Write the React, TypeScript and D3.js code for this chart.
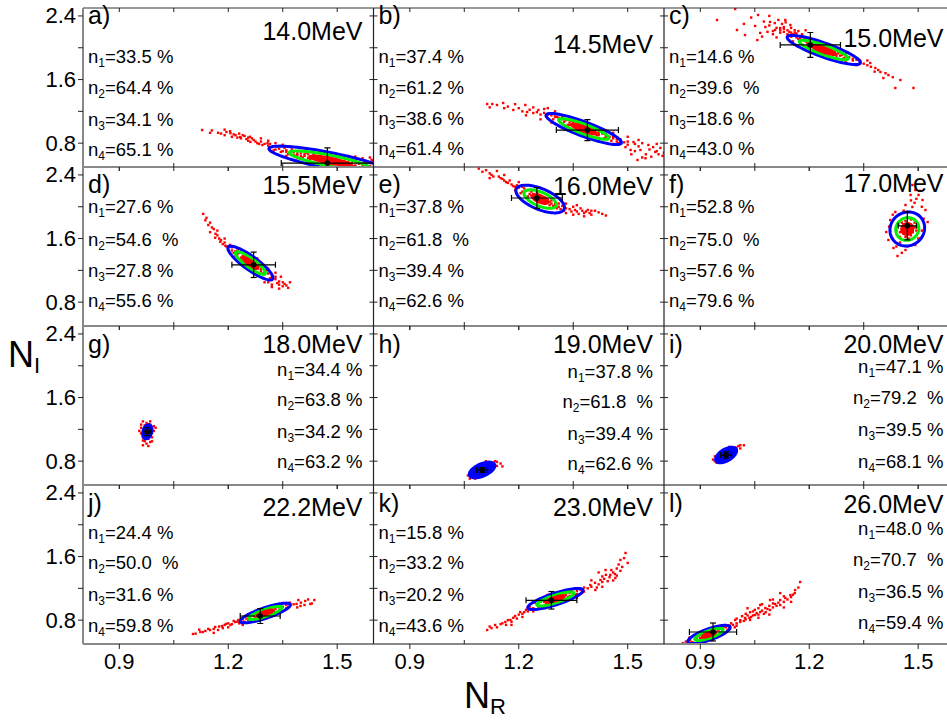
import React from 'react';
import * as d3 from 'd3';

const W = 947, H = 720;
const colLeft = [83, 373.5, 664];
const rowTop = [8, 167, 326, 485];
const panelW = 290.5, panelH = 159;

const xDomain = [0.8, 1.6];
const yDomain = [0.5, 2.5];
const xMajorTicks = [0.9, 1.2, 1.5];
const xMinorTicks = [1.05, 1.35];
const yMajorTicks = [0.8, 1.6, 2.4];
const yMinorTicks = [1.2, 2.0];

const letters = ['a)', 'b)', 'c)', 'd)', 'e)', 'f)', 'g)', 'h)', 'i)', 'j)', 'k)', 'l)'];
const energies = ['14.0MeV', '14.5MeV', '15.0MeV', '15.5MeV', '16.0MeV', '17.0MeV', '18.0MeV', '19.0MeV', '20.0MeV', '22.2MeV', '23.0MeV', '26.0MeV'];
const n1 = ['33.5 %', '37.4 %', '14.6 %', '27.6 %', '37.8 %', '52.8 %', '34.4 %', '37.8 %', '47.1 %', '24.4 %', '15.8 %', '48.0 %'];
const n2 = ['64.4 %', '61.2 %', '39.6  %', '54.6  %', '61.8  %', '75.0  %', '63.8 %', '61.8  %', '79.2  %', '50.0  %', '33.2 %', '70.7  %'];
const n3 = ['34.1 %', '38.6 %', '18.6 %', '27.8 %', '39.4 %', '57.6 %', '34.2 %', '39.4 %', '39.5 %', '31.6 %', '20.2 %', '36.5 %'];
const n4 = ['65.1 %', '61.4 %', '43.0 %', '55.6 %', '62.6 %', '79.6 %', '63.2 %', '62.6 %', '68.1 %', '59.8 %', '43.6 %', '59.4 %'];
const textRight = [false, false, false, false, false, false, true, true, true, false, false, true];
const letterY = [16, 26, 27, 27];
const energyY = [23, 36, 30, 18, 19, 16, 18, 18, 18, 22, 22, 19];
const nLineY = [
  [49, 80, 112, 142], [49, 80, 111, 141], [49, 80, 111, 141],
  [40, 73, 104, 134], [40, 73, 104, 134], [40, 73, 104, 134],
  [44, 74, 106, 136], [46, 76, 108, 138], [41, 72, 104, 136],
  [48, 78, 110, 141], [48, 78, 110, 141], [44, 75, 107, 138],
];

// ellipse (3 sigma outer) centre, major half-axis vector (data units), minor/major ratio
const ellipseCenter: [number, number][] = [
  [1.48, 0.58], [1.379, 0.978], [1.24, 1.972], [1.261, 1.292], [1.259, 2.097], [1.47, 1.72],
  [0.977, 1.17], [1.099, 0.689], [0.971, 0.877], [1.302, 0.89], [1.301, 1.066], [0.924, 0.62],
];
const ellipseAxis: [number, number][] = [
  [0.168, -0.153], [0.1035, -0.176], [0.1007, -0.1635], [0.061, -0.201], [0.066, -0.126], [0.0386, 0.138],
  [0.0055, 0.088], [0.0345, 0.069], [0.0276, 0.075], [0.069, 0.107], [0.076, 0.113], [0.058, 0.094],
];
const ellipseRatio = [0.13, 0.18, 0.18, 0.25, 0.4, 0.93, 0.6, 0.45, 0.5, 0.2, 0.2, 0.25];
const ellipseFilled = [false, false, false, false, false, false, true, true, true, false, false, false];

// error cross: centre and half-widths
const errCenter: [number, number][] = [
  [1.473, 0.55], [1.389, 0.965], [1.203, 2.035], [1.27, 1.27], [1.25, 2.11], [1.47, 1.76],
  [0.977, 1.17], [1.099, 0.689], [0.971, 0.877], [1.288, 0.852], [1.29, 1.05], [0.935, 0.651],
];
const errHalf: [number, number][] = [
  [0.127, 0.19], [0.0855, 0.132], [0.083, 0.157], [0.06, 0.16], [0.07, 0.13], [0.025, 0.176],
  [0.01, 0.05], [0.015, 0.03], [0.015, 0.04], [0.055, 0.094], [0.07, 0.11], [0.065, 0.113],
];

const ptsA: [number, number][] = [
  [1.128, 0.965], [1.172, 0.93], [1.195, 0.94], [1.206, 0.925], [1.22, 0.9], [1.233, 0.877], [1.245, 0.89], [1.25, 0.85],
  [1.261, 0.815], [1.27, 0.84], [1.28, 0.8], [1.294, 0.777], [1.3, 0.79], [1.308, 0.8],
  [1.32, 0.75], [1.325, 0.71], [1.34, 0.73], [1.345, 0.69], [1.335, 0.76], [1.36, 0.71], [1.365, 0.66], [1.355, 0.74],
  [1.38, 0.69], [1.385, 0.64], [1.375, 0.72], [1.39, 0.67], [1.4, 0.67], [1.405, 0.62], [1.395, 0.7], [1.41, 0.64],
  [1.42, 0.66], [1.425, 0.6], [1.415, 0.68], [1.43, 0.63], [1.44, 0.64], [1.445, 0.59], [1.435, 0.66], [1.45, 0.61],
  [1.46, 0.62], [1.465, 0.57], [1.455, 0.65], [1.47, 0.6], [1.48, 0.6], [1.485, 0.55], [1.475, 0.63], [1.49, 0.58],
  [1.5, 0.59], [1.505, 0.53], [1.51, 0.57], [1.52, 0.57], [1.525, 0.52], [1.53, 0.56], [1.54, 0.55], [1.545, 0.51],
  [1.55, 0.58], [1.56, 0.54], [1.57, 0.52], [1.575, 0.56], [1.58, 0.53], [1.59, 0.55], [1.595, 0.59],
  [1.4, 0.74], [1.45, 0.7], [1.5, 0.66], [1.53, 0.64], [1.55, 0.63], [1.57, 0.61], [1.35, 0.78], [1.37, 0.76],
  [1.19, 0.9], [1.21, 0.88], [1.215, 0.91], [1.225, 0.87], [1.235, 0.86], [1.24, 0.9], [1.255, 0.83], [1.265, 0.86],
  [1.275, 0.82], [1.285, 0.79], [1.29, 0.82], [1.31, 0.77], [1.315, 0.79], [1.255, 0.87], [1.205, 0.95], [1.155, 0.96],
  [1.18, 0.92], [1.33, 0.72], [1.35, 0.7], [1.37, 0.68], [1.39, 0.65], [1.41, 0.66], [1.43, 0.61], [1.45, 0.63],
  [1.47, 0.58], [1.49, 0.56], [1.51, 0.55], [1.53, 0.53], [1.55, 0.52], [1.57, 0.54], [1.59, 0.51], [1.36, 0.69],
  [1.38, 0.655], [1.4, 0.635], [1.42, 0.615], [1.44, 0.6], [1.46, 0.585], [1.48, 0.57], [1.5, 0.545], [1.52, 0.535],
  [1.54, 0.53], [1.56, 0.55], [1.58, 0.56], [1.6, 0.57], [1.43, 0.69], [1.47, 0.67], [1.52, 0.62], [1.56, 0.6], [1.59, 0.62],
  [1.15, 0.93], [1.19, 0.97], [1.23, 0.92], [1.26, 0.88], [1.29, 0.86], [1.31, 0.83], [1.33, 0.8], [1.36, 0.64],
  [1.39, 0.61], [1.42, 0.57],
];
const ptsB: [number, number][] = [
  [1.113, 1.292], [1.127, 1.292], [1.157, 1.305], [1.185, 1.217], [1.218, 1.28], [1.223, 1.192], [1.24, 1.179], [1.254, 1.217],
  [1.516, 0.814], [1.557, 0.777], [1.527, 0.588], [1.535, 0.714], [1.576, 0.689], [1.59, 0.74], [1.596, 0.64], [1.549, 0.61],
  [1.508, 0.714], [1.494, 0.75],
  [1.27, 1.18], [1.275, 1.14], [1.29, 1.15], [1.295, 1.1], [1.285, 1.17], [1.31, 1.12], [1.315, 1.06], [1.305, 1.13],
  [1.33, 1.09], [1.335, 1.03], [1.325, 1.07], [1.35, 1.05], [1.355, 0.99], [1.345, 1.08], [1.36, 1.02],
  [1.37, 1.02], [1.375, 0.96], [1.365, 1.04], [1.38, 0.99], [1.39, 0.99], [1.395, 0.93], [1.385, 1.0], [1.4, 0.95],
  [1.41, 0.95], [1.415, 0.9], [1.405, 0.97], [1.42, 0.92], [1.43, 0.92], [1.435, 0.86], [1.44, 0.89],
  [1.45, 0.88], [1.455, 0.83], [1.46, 0.86], [1.47, 0.85], [1.475, 0.8], [1.48, 0.83], [1.49, 0.81], [1.5, 0.78],
  [1.26, 1.1], [1.3, 1.2], [1.33, 1.0], [1.44, 0.95], [1.46, 0.79], [1.28, 1.24],
  [1.14, 1.28], [1.17, 1.26], [1.2, 1.24], [1.21, 1.2], [1.23, 1.22], [1.25, 1.19], [1.26, 1.16], [1.24, 1.25],
  [1.28, 1.16], [1.3, 1.13], [1.32, 1.1], [1.34, 1.06], [1.36, 1.03], [1.38, 1.0], [1.4, 0.97], [1.42, 0.94],
  [1.44, 0.91], [1.46, 0.88], [1.48, 0.85], [1.5, 0.82], [1.52, 0.79], [1.3, 1.16], [1.32, 1.13], [1.34, 1.03],
  [1.36, 1.0], [1.38, 0.95], [1.4, 0.93], [1.42, 0.9], [1.44, 0.87], [1.47, 0.82],
  [1.53, 0.76], [1.54, 0.8], [1.56, 0.72], [1.57, 0.75], [1.58, 0.7], [1.6, 0.68], [1.55, 0.66], [1.52, 0.7], [1.565, 0.63], [1.585, 0.66],
  [1.12, 1.25], [1.16, 1.24], [1.19, 1.29], [1.22, 1.15], [1.27, 1.23], [1.29, 1.06], [1.46, 0.93], [1.5, 0.88],
  [1.53, 0.84], [1.58, 0.79], [1.54, 0.62], [1.51, 0.66],
];
const ptsC: [number, number][] = [
  [0.946, 2.349], [0.996, 2.487], [1.001, 2.223], [1.023, 2.16], [1.051, 2.274], [1.057, 2.097], [1.059, 2.412], [1.079, 2.261],
  [1.092, 2.324], [1.106, 2.223], [1.12, 2.248], [1.134, 2.349], [1.148, 2.286], [1.065, 2.186],
  [1.368, 1.808], [1.396, 1.695], [1.404, 1.619], [1.437, 1.494], [1.487, 1.494], [1.382, 1.745], [1.418, 1.657], [1.451, 1.594],
  [1.15, 2.14], [1.155, 2.08], [1.16, 2.16], [1.17, 2.11], [1.175, 2.05], [1.165, 2.13], [1.19, 2.08], [1.195, 2.02],
  [1.185, 2.1], [1.2, 2.05], [1.21, 2.05], [1.215, 1.99], [1.205, 2.07], [1.22, 2.02], [1.23, 2.01], [1.235, 1.96],
  [1.225, 2.04], [1.24, 1.99], [1.25, 1.98], [1.255, 1.93], [1.26, 1.96], [1.27, 1.95], [1.275, 1.9], [1.28, 1.93],
  [1.29, 1.91], [1.295, 1.87], [1.3, 1.89], [1.31, 1.88], [1.32, 1.84], [1.33, 1.85], [1.34, 1.81],
  [1.125, 2.3], [1.13, 2.26], [1.14, 2.22], [1.15, 2.25], [1.16, 2.19], [1.17, 2.21], [1.135, 2.32],
  [1.13, 2.2], [1.14, 2.17], [1.12, 2.19], [1.16, 2.22], [1.18, 2.15], [1.1, 2.17],
  [1.13, 2.24], [1.145, 2.2], [1.155, 2.17], [1.165, 2.18], [1.175, 2.12], [1.185, 2.13], [1.195, 2.06], [1.205, 2.04],
  [1.215, 2.02], [1.225, 2.0], [1.235, 1.98], [1.245, 1.96], [1.255, 1.95], [1.265, 1.93], [1.285, 1.9], [1.305, 1.87],
  [1.32, 1.86], [1.34, 1.84], [1.35, 1.8], [1.36, 1.78], [1.12, 2.22], [1.11, 2.25], [1.1, 2.21], [1.09, 2.28],
  [1.085, 2.2], [1.105, 2.31], [1.115, 2.35], [1.075, 2.33], [1.15, 2.19], [1.18, 2.17], [1.2, 2.1], [1.22, 2.06],
  [1.26, 1.99], [1.28, 1.96], [1.3, 1.92], [1.37, 1.76], [1.39, 1.72], [1.41, 1.68], [1.43, 1.63],
  [1.02, 2.3], [1.04, 2.38], [1.07, 2.14], [1.09, 2.4], [1.11, 2.13], [1.19, 2.22], [1.25, 2.04], [1.3, 1.83],
  [1.33, 1.78], [1.38, 1.7], [1.36, 1.84],
];
const ptsD: [number, number][] = [
  [1.131, 1.91], [1.137, 1.83], [1.145, 1.77], [1.15, 1.68], [1.16, 1.72], [1.164, 1.61], [1.17, 1.64], [1.178, 1.56],
  [1.185, 1.53], [1.192, 1.51], [1.2, 1.47],
  [1.21, 1.49], [1.215, 1.42], [1.205, 1.52], [1.23, 1.42], [1.235, 1.36], [1.225, 1.45], [1.24, 1.38],
  [1.25, 1.36], [1.255, 1.29], [1.245, 1.38], [1.26, 1.31], [1.27, 1.3], [1.275, 1.22], [1.265, 1.33], [1.28, 1.25],
  [1.29, 1.22], [1.295, 1.16], [1.285, 1.25], [1.3, 1.18], [1.31, 1.16], [1.315, 1.1], [1.32, 1.12],
  [1.33, 1.09], [1.335, 1.04], [1.34, 1.06],
  [1.35, 1.0], [1.345, 1.12], [1.32, 0.99], [1.3, 1.05], [1.355, 1.03], [1.28, 1.35], [1.31, 1.22],
  [1.14, 1.86], [1.155, 1.74], [1.165, 1.66], [1.175, 1.6], [1.18, 1.58], [1.19, 1.55], [1.195, 1.5], [1.21, 1.45],
  [1.22, 1.44], [1.225, 1.4], [1.24, 1.34], [1.25, 1.32], [1.255, 1.35], [1.26, 1.27], [1.27, 1.27], [1.28, 1.22],
  [1.29, 1.19], [1.3, 1.15], [1.305, 1.2], [1.32, 1.08], [1.33, 1.12], [1.34, 1.02], [1.35, 1.05], [1.36, 1.01],
  [1.365, 0.98], [1.34, 0.97], [1.31, 1.05], [1.29, 1.29], [1.27, 1.36], [1.23, 1.47], [1.2, 1.5],
  [1.15, 1.8], [1.17, 1.7], [1.19, 1.6], [1.33, 1.17], [1.37, 1.05], [1.32, 1.02], [1.25, 1.25], [1.22, 1.38],
];
const ptsE: [number, number][] = [
  [1.09, 2.48], [1.1, 2.44], [1.12, 2.42], [1.13, 2.38], [1.15, 2.36], [1.16, 2.33], [1.17, 2.3], [1.18, 2.28],
  [1.19, 2.25], [1.14, 2.45],
  [1.2, 2.24], [1.205, 2.17], [1.195, 2.27], [1.22, 2.2], [1.225, 2.13], [1.215, 2.23], [1.23, 2.16],
  [1.24, 2.16], [1.245, 2.09], [1.235, 2.19], [1.25, 2.12], [1.26, 2.13], [1.265, 2.05], [1.255, 2.15], [1.27, 2.08],
  [1.28, 2.09], [1.285, 2.02], [1.275, 2.11], [1.29, 2.04], [1.3, 2.05], [1.305, 1.98], [1.31, 2.0],
  [1.32, 2.01], [1.325, 1.95],
  [1.34, 1.97], [1.35, 2.0], [1.36, 1.94], [1.37, 1.98], [1.38, 1.92], [1.39, 1.96], [1.4, 1.9], [1.42, 1.93],
  [1.35, 1.9], [1.33, 1.92],
  [1.11, 2.46], [1.125, 2.4], [1.145, 2.38], [1.155, 2.35], [1.165, 2.31], [1.175, 2.33], [1.185, 2.26], [1.19, 2.21],
  [1.21, 2.19], [1.21, 2.25], [1.23, 2.21], [1.235, 2.14], [1.245, 2.12], [1.25, 2.17], [1.255, 2.08], [1.26, 2.1],
  [1.265, 2.12], [1.27, 2.05], [1.275, 2.07], [1.285, 2.06], [1.29, 2.08], [1.295, 2.01], [1.3, 2.02], [1.31, 2.04],
  [1.315, 1.97], [1.33, 1.98], [1.345, 1.94], [1.355, 1.96], [1.365, 1.91], [1.375, 1.95], [1.385, 1.94], [1.41, 1.95],
  [1.395, 1.92], [1.43, 1.91],
  [1.12, 2.36], [1.16, 2.4], [1.2, 2.31], [1.33, 2.04], [1.36, 2.02], [1.4, 1.95], [1.38, 1.88], [1.44, 1.89],
];
const ptsF: [number, number][] = [
  [1.484, 2.274], [1.492, 2.211], [1.501, 2.148], [1.512, 2.085], [1.479, 2.148], [1.52, 1.959], [1.526, 1.808],
  [1.506, 1.607], [1.492, 1.519], [1.465, 1.456], [1.443, 1.381], [1.432, 1.481], [1.418, 1.582], [1.412, 1.682],
  [1.423, 1.833], [1.437, 1.934], [1.465, 2.022], [1.484, 1.997], [1.473, 1.934],
  [1.455, 1.7], [1.46, 1.78], [1.47, 1.65], [1.48, 1.75], [1.485, 1.68], [1.465, 1.82], [1.475, 1.6], [1.49, 1.8],
  [1.45, 1.62], [1.46, 1.74], [1.48, 1.84], [1.495, 1.7], [1.445, 1.78], [1.47, 1.7],
  [1.45, 1.68], [1.46, 1.66], [1.47, 1.76], [1.475, 1.72], [1.48, 1.64], [1.49, 1.74], [1.455, 1.8], [1.465, 1.62],
  [1.44, 1.7], [1.5, 1.75], [1.5, 1.9], [1.51, 2.0], [1.49, 2.05], [1.495, 2.1], [1.505, 2.2], [1.48, 2.08],
  [1.515, 1.85], [1.45, 1.55], [1.44, 1.5], [1.43, 1.6], [1.42, 1.75], [1.43, 1.9], [1.46, 1.95], [1.5, 1.6],
  [1.47, 1.5], [1.455, 1.42], [1.51, 1.7],
];
const ptsG: [number, number][] = [
  [0.965, 1.3], [0.97, 1.25], [0.975, 1.28], [0.98, 1.22], [0.985, 1.26], [0.99, 1.2], [0.96, 1.15], [0.965, 1.1],
  [0.97, 1.05], [0.975, 1.02], [0.98, 1.08], [0.985, 1.12], [0.99, 1.15], [0.995, 1.18], [0.96, 1.22], [0.97, 1.18],
  [0.98, 1.15], [0.975, 1.12], [0.99, 1.05], [0.965, 1.0], [0.98, 0.99], [0.985, 1.3], [0.955, 1.18], [1.0, 1.22],
  [0.97, 1.14], [0.975, 1.2], [0.98, 1.26], [0.985, 1.04], [0.99, 1.1], [0.96, 1.26], [0.965, 1.06], [0.995, 1.24],
];
const ptsH: [number, number][] = [
  [1.07, 0.6], [1.075, 0.63], [1.08, 0.58], [1.085, 0.65], [1.09, 0.62], [1.095, 0.7], [1.1, 0.66], [1.105, 0.72],
  [1.11, 0.68], [1.115, 0.76], [1.12, 0.73], [1.125, 0.78], [1.13, 0.75], [1.135, 0.8], [1.08, 0.68], [1.09, 0.73],
  [1.1, 0.61], [1.12, 0.67], [1.11, 0.8], [1.07, 0.66], [1.14, 0.74], [1.15, 0.77], [1.06, 0.62], [1.1, 0.76],
  [1.13, 0.7], [1.155, 0.734],
  [1.08, 0.63], [1.09, 0.67], [1.1, 0.7], [1.11, 0.72], [1.12, 0.76], [1.13, 0.78], [1.105, 0.64], [1.115, 0.7],
  [1.125, 0.72], [1.065, 0.58], [1.14, 0.79], [1.095, 0.6],
];
const ptsI: [number, number][] = [
  [0.94, 0.8], [0.945, 0.83], [0.95, 0.78], [0.955, 0.86], [0.96, 0.82], [0.965, 0.9], [0.97, 0.86], [0.975, 0.92],
  [0.98, 0.88], [0.985, 0.95], [0.99, 0.91], [0.995, 0.97], [1.0, 0.94], [1.005, 0.99], [0.95, 0.88], [0.96, 0.93],
  [0.97, 0.8], [0.99, 0.86], [0.98, 0.98], [0.94, 0.86], [1.01, 0.96], [1.02, 1.0], [0.935, 0.82], [0.965, 0.95],
  [0.95, 0.82], [0.96, 0.86], [0.97, 0.9], [0.98, 0.92], [0.99, 0.95], [1.0, 0.97], [0.975, 0.84], [0.985, 0.88],
  [0.995, 0.92], [0.945, 0.78], [1.01, 1.0], [0.955, 0.8],
];
const ptsJ: [number, number][] = [
  [1.103, 0.626], [1.123, 0.651], [1.137, 0.664], [1.15, 0.676], [1.164, 0.714], [1.172, 0.676], [1.183, 0.726], [1.194, 0.752],
  [1.206, 0.739], [1.219, 0.777], [1.228, 0.802], [1.239, 0.764],
  [1.388, 1.003], [1.399, 0.978], [1.412, 1.041], [1.426, 1.003], [1.437, 1.053], [1.393, 1.053],
  [1.24, 0.81], [1.245, 0.78], [1.26, 0.84], [1.265, 0.81], [1.255, 0.85], [1.28, 0.87], [1.285, 0.84], [1.275, 0.88],
  [1.3, 0.9], [1.305, 0.87], [1.295, 0.91], [1.32, 0.93], [1.325, 0.9], [1.315, 0.94], [1.34, 0.96], [1.345, 0.93],
  [1.335, 0.97], [1.36, 0.99], [1.365, 0.96],
  [1.11, 0.63], [1.13, 0.65], [1.145, 0.69], [1.16, 0.69], [1.175, 0.72], [1.185, 0.7], [1.19, 0.74], [1.2, 0.76],
  [1.21, 0.75], [1.215, 0.79], [1.225, 0.78], [1.23, 0.76], [1.235, 0.8], [1.25, 0.82], [1.27, 0.85], [1.29, 0.88],
  [1.31, 0.91], [1.33, 0.94], [1.35, 0.97], [1.37, 0.98], [1.38, 1.0], [1.255, 0.8], [1.275, 0.83], [1.295, 0.86],
  [1.315, 0.89], [1.34, 0.92], [1.36, 0.95], [1.4, 1.02], [1.42, 1.06], [1.41, 0.99],
  [1.16, 0.64], [1.2, 0.71], [1.24, 0.74], [1.33, 0.98], [1.37, 1.02], [1.39, 0.96], [1.43, 1.01], [1.12, 0.68],
];
const ptsK: [number, number][] = [
  [1.113, 0.676], [1.125, 0.7], [1.135, 0.739], [1.15, 0.75], [1.163, 0.777], [1.17, 0.8], [1.177, 0.802], [1.185, 0.83],
  [1.19, 0.852], [1.2, 0.87], [1.204, 0.902], [1.215, 0.9], [1.22, 0.93],
  [1.23, 0.97], [1.235, 0.94], [1.25, 1.0], [1.255, 0.97], [1.245, 1.02], [1.27, 1.03], [1.275, 1.0], [1.265, 1.05],
  [1.29, 1.06], [1.295, 1.03], [1.285, 1.08], [1.31, 1.09], [1.315, 1.06], [1.305, 1.11], [1.33, 1.12], [1.335, 1.09],
  [1.325, 1.14], [1.35, 1.15], [1.355, 1.12], [1.345, 1.17], [1.37, 1.18], [1.375, 1.15],
  [1.397, 1.242], [1.411, 1.179], [1.425, 1.305], [1.439, 1.431], [1.452, 1.368], [1.466, 1.33], [1.48, 1.557], [1.494, 1.645],
  [1.39, 1.2], [1.42, 1.25], [1.43, 1.35], [1.445, 1.29], [1.46, 1.4], [1.4, 1.3], [1.47, 1.45],
  [1.12, 0.72], [1.14, 0.71], [1.155, 0.76], [1.165, 0.74], [1.18, 0.78], [1.195, 0.82], [1.21, 0.88], [1.225, 0.91],
  [1.24, 0.95], [1.26, 0.98], [1.28, 1.01], [1.3, 1.04], [1.32, 1.07], [1.34, 1.1], [1.36, 1.13], [1.38, 1.16],
  [1.26, 1.03], [1.28, 1.06], [1.3, 1.08], [1.32, 1.11], [1.34, 1.14], [1.36, 1.17], [1.38, 1.21], [1.4, 1.22],
  [1.41, 1.27], [1.43, 1.28], [1.435, 1.32], [1.45, 1.34], [1.455, 1.43], [1.465, 1.38], [1.475, 1.5], [1.485, 1.47],
  [1.49, 1.58], [1.415, 1.21], [1.44, 1.37], [1.47, 1.36], [1.5, 1.52],
  [1.18, 0.74], [1.21, 0.84], [1.24, 0.91], [1.33, 1.04], [1.36, 1.08], [1.28, 1.12], [1.31, 1.15], [1.43, 1.22],
  [1.46, 1.3], [1.42, 1.4], [1.48, 1.42],
];
const ptsL: [number, number][] = [
  [0.852, 0.51], [0.86, 0.53], [0.872, 0.55], [0.88, 0.52], [0.885, 0.57], [0.899, 0.576], [0.89, 0.6],
  [0.91, 0.61], [0.905, 0.58], [0.93, 0.64], [0.935, 0.61], [0.925, 0.66], [0.95, 0.67], [0.955, 0.64], [0.945, 0.69],
  [0.97, 0.71], [0.975, 0.68], [0.965, 0.72], [0.99, 0.74], [0.995, 0.71], [0.985, 0.76],
  [1.01, 0.777], [1.023, 0.827], [1.037, 0.802], [1.051, 0.865], [1.065, 0.902], [1.079, 0.953], [1.092, 0.928], [1.106, 1.003],
  [1.12, 1.053], [1.134, 1.079], [1.148, 1.116], [1.161, 1.179], [1.175, 1.28], [1.092, 1.053], [1.065, 0.99], [1.037, 0.9],
  [1.015, 0.85], [0.996, 0.802], [1.0, 0.76], [1.02, 0.79], [1.04, 0.84], [1.06, 0.87], [1.08, 0.9], [1.1, 0.96],
  [1.12, 0.99], [1.05, 0.93], [1.03, 0.86],
  [0.87, 0.58], [0.875, 0.52], [0.89, 0.56], [0.895, 0.6], [0.9, 0.62], [0.915, 0.6], [0.92, 0.64], [0.94, 0.65],
  [0.94, 0.68], [0.96, 0.69], [0.96, 0.66], [0.98, 0.71], [0.98, 0.73], [1.0, 0.73], [1.01, 0.8], [1.025, 0.81],
  [1.035, 0.83], [1.045, 0.86], [1.055, 0.89], [1.07, 0.92], [1.075, 0.88], [1.085, 0.94], [1.09, 0.98], [1.11, 0.98],
  [1.115, 1.02], [1.13, 1.03], [1.14, 1.06], [1.155, 1.12], [1.13, 1.1], [1.17, 1.21], [1.045, 0.91], [1.06, 0.95],
  [1.025, 0.88], [1.1, 1.01], [1.15, 1.09],
  [1.03, 0.95], [1.06, 0.83], [1.09, 0.87], [1.1, 1.06], [1.13, 0.96], [1.15, 1.03], [1.16, 1.14], [1.12, 1.14],
  [1.07, 1.0], [1.0, 0.82],
];
const clouds = [ptsA, ptsB, ptsC, ptsD, ptsE, ptsF, ptsG, ptsH, ptsI, ptsJ, ptsK, ptsL];

const FONT = 'Liberation Sans, Arial, sans-serif';
const sx = d3.scaleLinear().domain(xDomain).range([0, panelW]);
const sy = d3.scaleLinear().domain(yDomain).range([panelH, 0]);

function ellipsePath(i: number, k: number) {
  const [ex, ey] = ellipseCenter[i];
  const [ax, ay] = ellipseAxis[i];
  const cx = sx(ex), cy = sy(ey);
  const ux = sx(ex + ax) - cx, uy = sy(ey + ay) - cy;
  const r = ellipseRatio[i];
  const vx = -uy * r, vy = ux * r;
  const pts = d3.range(0, 97).map((j) => {
    const t = (j / 96) * 2 * Math.PI;
    return [cx + k * (Math.cos(t) * ux + Math.sin(t) * vx), cy + k * (Math.cos(t) * uy + Math.sin(t) * vy)] as [number, number];
  });
  return (d3.line()(pts) || '') + 'Z';
}

function NText({ x, y, idx, val, anchor }: { x: number; y: number; idx: number; val: string; anchor: 'start' | 'end' }) {
  return (
    <text x={x} y={y} fontSize={18.5} fontFamily={FONT} textAnchor={anchor} xmlSpace="preserve" style={{ whiteSpace: 'pre' }}>
      n<tspan fontSize={12} dy={4}>{idx}</tspan><tspan dy={-4}>={val}</tspan>
    </text>
  );
}

function Panel({ i }: { i: number }) {
  const r = Math.floor(i / 3), c = i % 3;
  const L = colLeft[c], T = rowTop[r];
  const [ecx, ecy] = errCenter[i];
  const [ehx, ehy] = errHalf[i];
  const cap = 3;
  const nVals = [n1[i], n2[i], n3[i], n4[i]];
  const right = textRight[i];
  const yAll = [...yMajorTicks, ...yMinorTicks];
  const xAll = [...xMajorTicks, ...xMinorTicks];
  return (
    <g transform={`translate(${L},${T})`}>
      <defs>
        <clipPath id={`clip${i}`}>
          <rect x={0} y={0} width={panelW} height={panelH} />
        </clipPath>
      </defs>
      <g clipPath={`url(#clip${i})`}>
        {clouds[i].map((p, j) => (
          <rect key={j} x={sx(p[0]) - 1.2} y={sy(p[1]) - 1.2} width={2.4} height={2.4} fill="#ff0000" />
        ))}
        <path d={ellipsePath(i, 1)} fill={ellipseFilled[i] ? '#0000ff' : 'none'} stroke="#0000ff" strokeWidth={3} />
        {!ellipseFilled[i] && <path d={ellipsePath(i, 2 / 3)} fill="none" stroke="#00ee00" strokeWidth={3} />}
        {!ellipseFilled[i] && <path d={ellipsePath(i, 1 / 3)} fill="#ff0000" stroke="#ff0000" strokeWidth={2.5} />}
        <g stroke="#000" strokeWidth={1.2}>
          <line x1={sx(ecx - ehx)} x2={sx(ecx + ehx)} y1={sy(ecy)} y2={sy(ecy)} />
          <line x1={sx(ecx)} x2={sx(ecx)} y1={sy(ecy - ehy)} y2={sy(ecy + ehy)} />
          <line x1={sx(ecx - ehx)} x2={sx(ecx - ehx)} y1={sy(ecy) - cap} y2={sy(ecy) + cap} />
          <line x1={sx(ecx + ehx)} x2={sx(ecx + ehx)} y1={sy(ecy) - cap} y2={sy(ecy) + cap} />
          <line x1={sx(ecx) - cap} x2={sx(ecx) + cap} y1={sy(ecy - ehy)} y2={sy(ecy - ehy)} />
          <line x1={sx(ecx) - cap} x2={sx(ecx) + cap} y1={sy(ecy + ehy)} y2={sy(ecy + ehy)} />
        </g>
        <circle cx={sx(ecx)} cy={sy(ecy)} r={2.8} fill="#000" />
      </g>
      {/* frame */}
      {r === 0 && <line x1={0} x2={panelW} y1={0} y2={0} stroke="#333" strokeWidth={1} />}
      <line x1={0} x2={panelW} y1={panelH} y2={panelH} stroke="#888" strokeWidth={2} />
      {c === 0 ? (
        <line x1={0} x2={0} y1={0} y2={panelH} stroke="#888" strokeWidth={2} />
      ) : (
        <line x1={0} x2={0} y1={0} y2={panelH} stroke="#222" strokeWidth={1.2} />
      )}
      {c === 2 && <line x1={panelW} x2={panelW} y1={0} y2={panelH} stroke="#222" strokeWidth={1} />}
      {/* ticks */}
      {yAll.map((v) => (
        <line key={`yl${v}`} x1={c === 0 ? -5 : 0} x2={c === 0 ? 0 : 4} y1={sy(v)} y2={sy(v)} stroke="#222" strokeWidth={1} />
      ))}
      {yAll.map((v) => (
        <line key={`yr${v}`} x1={panelW - 4} x2={panelW} y1={sy(v)} y2={sy(v)} stroke="#222" strokeWidth={1} />
      ))}
      {xMajorTicks.map((v) => (
        <line key={`xb${v}`} x1={sx(v)} x2={sx(v)} y1={panelH} y2={panelH + (r === 3 ? 5 : 4)} stroke="#222" strokeWidth={1} />
      ))}
      {xMinorTicks.map((v) => (
        <line key={`xm${v}`} x1={sx(v)} x2={sx(v)} y1={panelH} y2={panelH - 4} stroke="#222" strokeWidth={1} />
      ))}
      {xAll.map((v) => (
        <line key={`xt${v}`} x1={sx(v)} x2={sx(v)} y1={0} y2={4} stroke="#222" strokeWidth={1} />
      ))}
      {c === 0 &&
        yMajorTicks.map((v) => (
          <text key={`yt${v}`} x={-7} y={sy(v) + 7.5} fontSize={22} fontFamily={FONT} textAnchor="end">
            {v.toFixed(1)}
          </text>
        ))}
      {r === 3 &&
        xMajorTicks.map((v) => (
          <text key={`xtl${v}`} x={sx(v)} y={panelH + 25} fontSize={22} fontFamily={FONT} textAnchor="middle">
            {v.toFixed(1)}
          </text>
        ))}
      {/* labels */}
      <text x={5} y={letterY[r]} fontSize={25} fontFamily={FONT}>{letters[i]}</text>
      <text x={panelW - 11} y={energyY[i] + 8.5} fontSize={25} fontFamily={FONT} textAnchor="end">{energies[i]}</text>
      {nVals.map((v, j) => (
        <NText key={j} x={right ? panelW - 11 : 5} y={nLineY[i][j] + 6} idx={j + 1} val={v} anchor={right ? 'end' : 'start'} />
      ))}
    </g>
  );
}

export default function App() {
  return (
    <svg width={W} height={H} style={{ position: 'absolute', left: 0, top: 0, background: '#fff' }}>
      <rect x={0} y={0} width={W} height={H} fill="#fff" />
      {d3.range(12).map((i) => (
        <Panel key={i} i={i} />
      ))}
      <text x={8} y={367} fontSize={36} fontFamily={FONT}>
        N<tspan fontSize={22} dy={6}>I</tspan>
      </text>
      <text x={464} y={708} fontSize={36} fontFamily={FONT}>
        N<tspan fontSize={22} dy={6}>R</tspan>
      </text>
    </svg>
  );
}
